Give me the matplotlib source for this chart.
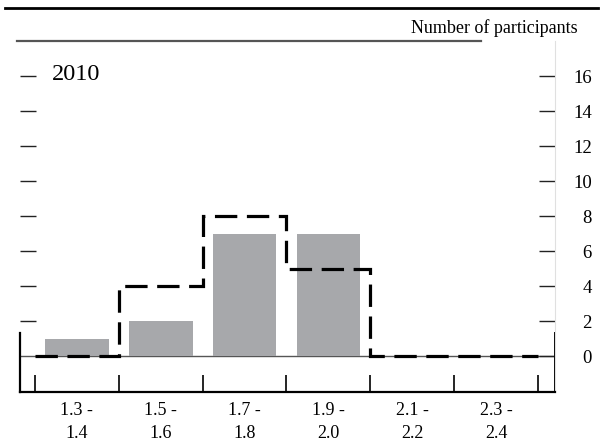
import numpy as np
import matplotlib.pyplot as plt

plt.rcParams['font.family'] = ['Liberation Serif', 'DejaVu Serif']

# Data
bin_labels = ['1.3 -\n1.4', '1.5 -\n1.6', '1.7 -\n1.8', '1.9 -\n2.0', '2.1 -\n2.2', '2.3 -\n2.4']
current_counts = [1, 2, 7, 7, 0, 0]      # gray bars
previous_counts = [0, 4, 8, 5, 0, 0]     # dashed outline
y_ticks = [0, 2, 4, 6, 8, 10, 12, 14, 16]
year_label = '2010'

W, H = 601, 448
fig = plt.figure(figsize=(W / 100, H / 100), dpi=100)
ax = fig.add_axes([20 / W, (H - 392) / H, 535 / W, 351 / H])

centers = np.arange(len(bin_labels))
edges = np.arange(len(bin_labels) + 1) - 0.5

ax.set_xlim(-0.679, 5.703)
ax.set_ylim(-2.057, 18.0)

# zero line
ax.axhline(0, color='#555555', lw=1.0, zorder=1)

ax.bar(centers, current_counts, width=0.76, color='#a7a8ab', zorder=2)
ax.stairs(previous_counts, edges, baseline=None, color='black', lw=2.3,
          linestyle=(0, (7, 3)), zorder=3)

# spines
for s in ['top', 'left']:
    ax.spines[s].set_visible(False)
ax.spines['right'].set_color('#e0e0e0')
ax.spines['right'].set_linewidth(0.8)
ax.spines['bottom'].set_linewidth(1.6)

# short black frame segments near the bottom
ax.plot([0, 0], [0, 0.168], transform=ax.transAxes, color='black', lw=1.6, clip_on=False)
ax.plot([1, 1], [0, 0.168], transform=ax.transAxes, color='black', lw=1.4, clip_on=False)
# inner top rule
ax.plot([-0.005, 0.862], [1, 1], transform=ax.transAxes, color='#555555', lw=1.6, clip_on=False)

# y ticks: left and right, inward
ax.set_yticks(y_ticks)
ax.yaxis.set_ticks_position('both')
ax.tick_params(axis='y', direction='in', length=11.5, width=1.0, color='#222222',
               left=True, right=True, labelleft=False, labelright=True,
               labelsize=13.5, pad=26.5)
for lab in ax.get_yticklabels():
    lab.set_horizontalalignment('right')
# no left tick at zero
ax.yaxis.get_major_ticks()[0].tick1line.set_visible(False)

# x ticks at bin edges, labels at centers
ax.set_xticks(edges)
ax.set_xticklabels([])
ax.tick_params(axis='x', which='major', direction='in', length=12, width=1.2)
ax.set_xticks(centers, minor=True)
ax.set_xticklabels(bin_labels, minor=True, fontsize=13, linespacing=1.45)
ax.tick_params(axis='x', which='minor', length=0, pad=7)

# texts
ax.text(0.06, 0.905, year_label, transform=ax.transAxes, fontsize=17.5,
        ha='left', va='center')
fig.text(578 / W, 1 - 28 / H, 'Number of participants', fontsize=13,
         ha='right', va='center')

# top full-width rule
fig.add_artist(plt.Line2D([5 / W, 598 / W], [1 - 8 / H, 1 - 8 / H],
                          color='black', lw=2.0))

fig.savefig('out.png', dpi=100)
